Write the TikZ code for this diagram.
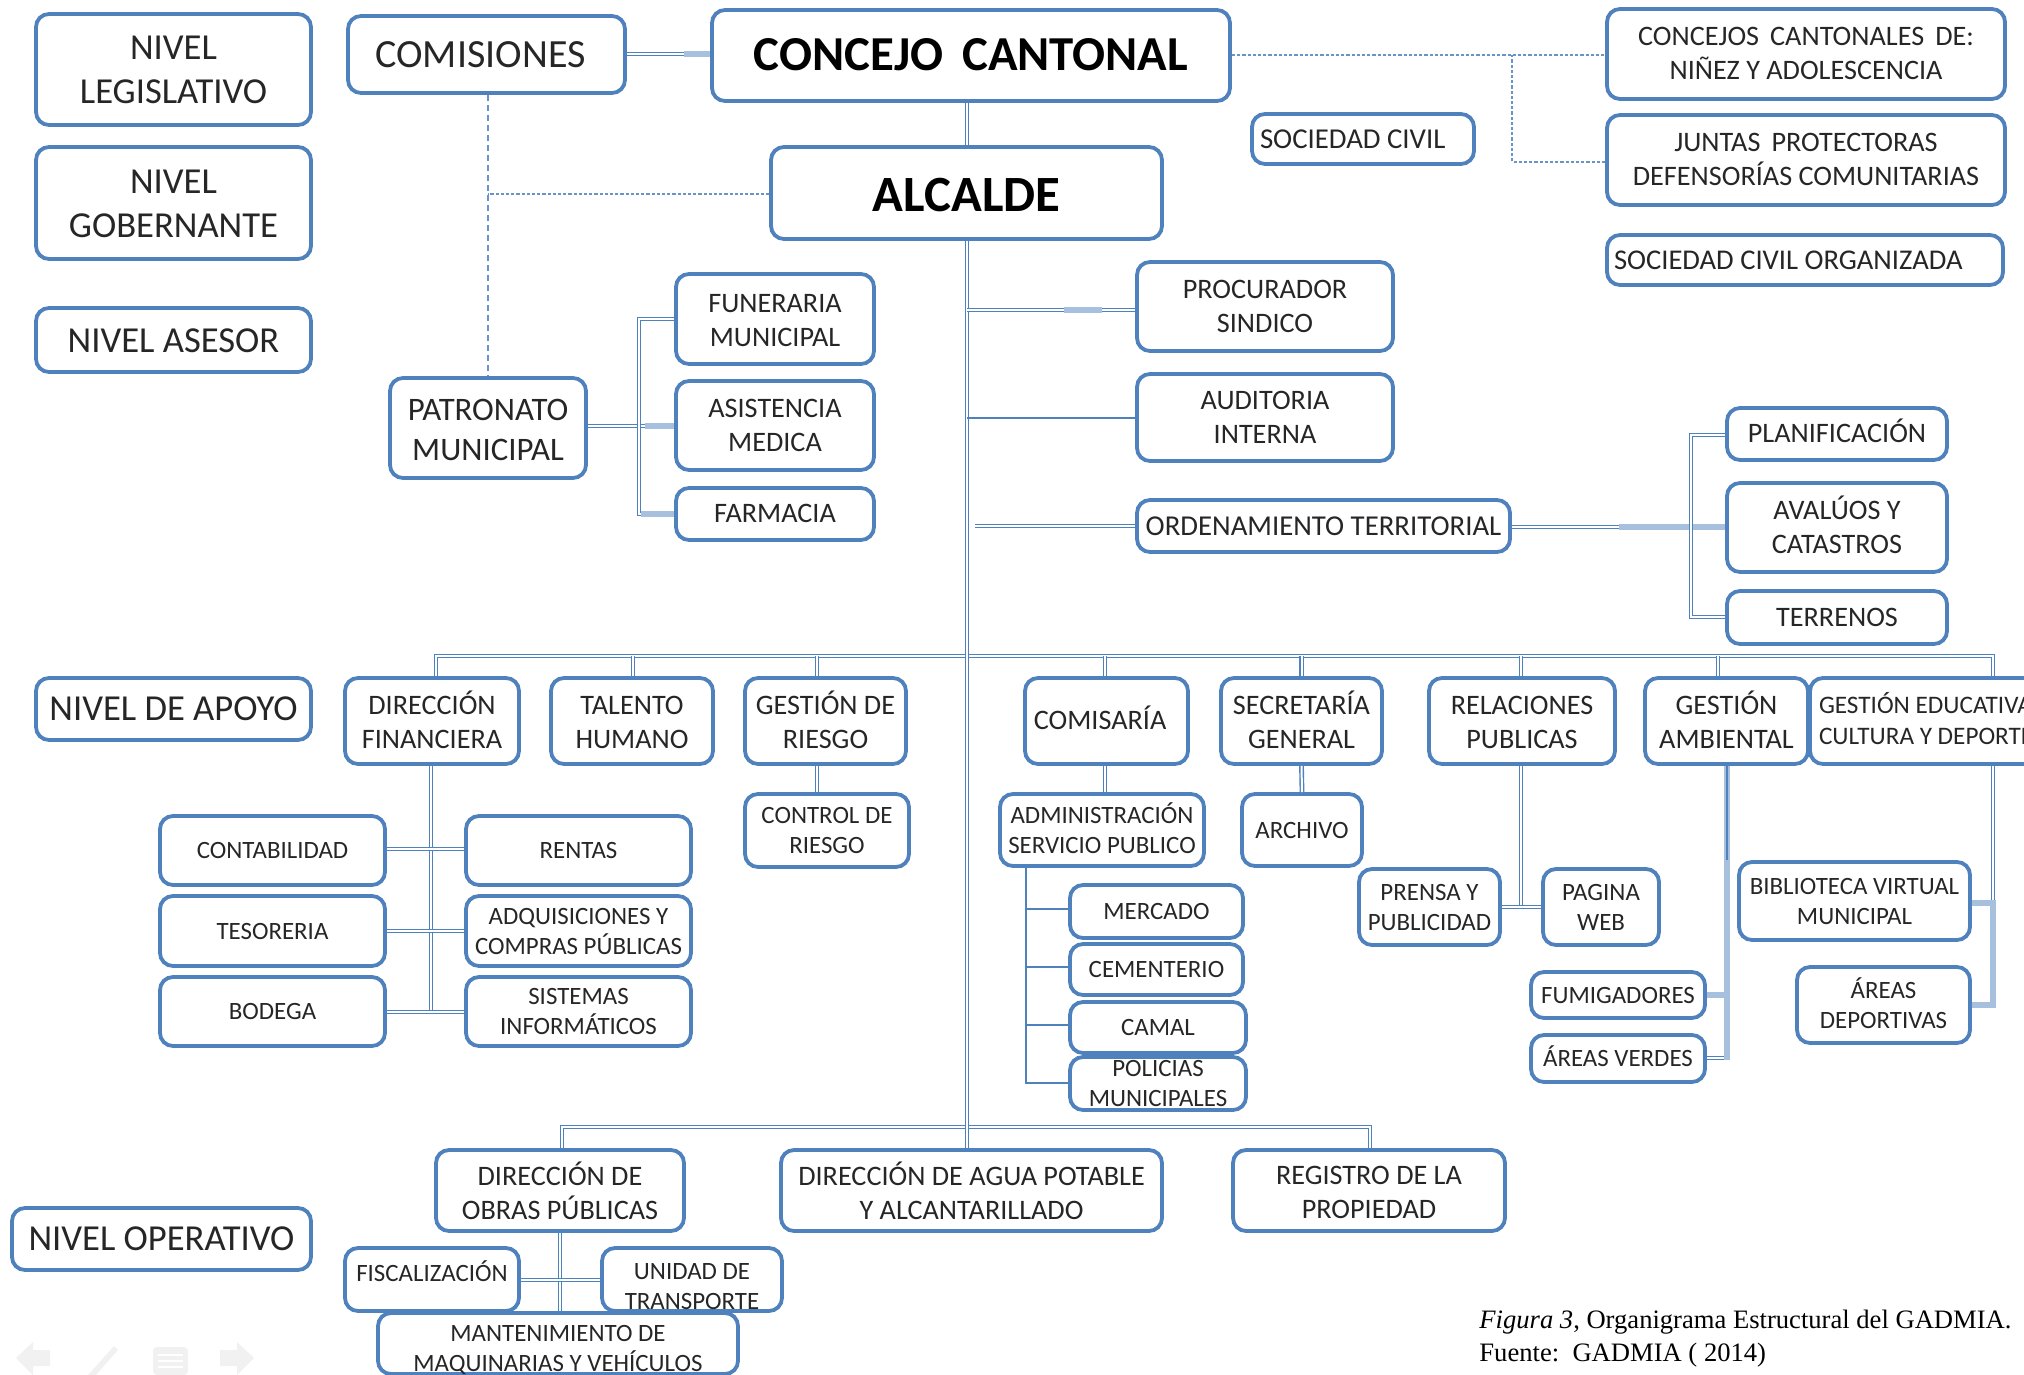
\documentclass[tikz,border=0pt]{standalone}
\usepackage{fontspec}
\setmainfont{Carlito}
\newfontfamily\capfont{Liberation Serif}
\definecolor{boxblue}{HTML}{4F81BD}
\definecolor{paleblue}{HTML}{A7C0DE}
\definecolor{navgray}{HTML}{F1F1F1}
\tikzset{
  orgbox/.style={draw=boxblue,line width=1.9pt,rounded corners=6.5pt,fill=white,inner sep=0pt,text=black!85},
  dbl/.style={draw=boxblue,double=white,double distance=1pt,line width=0.7pt},
  thin line/.style={draw=boxblue,line width=0.9pt},
  pale/.style={draw=paleblue,line width=3pt},
  dotl/.style={draw=boxblue!85,line width=1pt,dash pattern=on 1.6pt off 1pt},
  dashl/.style={draw=boxblue!85,line width=0.65pt,dash pattern=on 3pt off 2pt},
  capnote/.style={anchor=base west,inner sep=0pt,font=\capfont\fontsize{13.3}{15}\selectfont},
}
\def\dyoff{0}
% \bx[style]{name}{x1}{y1}{x2}{y2}{size}{leading}{text}; text is kept at zero height so boxes keep their size
\newcommand\bx[9][]{\pgfmathsetmacro\rsft{-0.572*#7+0.2*#8+\dyoff}%
\node[orgbox,minimum width={(#5-#3)*0.5pt},minimum height={(#6-#4)*0.5pt},font=\fontsize{#7}{#8}\selectfont,#1] (#2) at ({(#3+#5)/2},{(#4+#6)/2}) {\raisebox{\rsft pt}[0pt][0pt]{\begin{tabular}{@{}c@{}}#9\end{tabular}}};\def\dyoff{0}}
\begin{document}
\begin{tikzpicture}[x=0.5pt,y=-0.5pt]
\path[use as bounding box,clip] (0,0) rectangle (2024,1375);
% levels
\bx{nl}{36}{14}{311}{125}{18.3}{22}{NIVEL\\LEGISLATIVO}
\bx{ng}{36}{147}{311}{259}{18.3}{22}{NIVEL\\GOBERNANTE}
\bx{na}{36}{308}{311}{372}{18.3}{22}{NIVEL ASESOR}
\def\dyoff{0.6}\bx{nap}{36}{678}{311}{740}{18.3}{22}{NIVEL DE APOYO}
\def\dyoff{0.6}\bx{nop}{12}{1208}{311}{1270}{18.3}{22}{NIVEL OPERATIVO}
% top
\bx{com}{348}{16}{625}{93}{20}{22}{COMISIONES\kern6pt}
\bx[text=black]{conc}{712}{10}{1230}{101}{24.4}{28}{\textbf{CONCEJO\, CANTONAL}}
\def\dyoff{-1}\bx[text=black]{alc}{771}{147}{1162}{239}{25.4}{28}{\textbf{ALCALDE}}
\bx{soc}{1252}{114}{1474}{164}{14.4}{17}{\makebox[110pt][l]{\hspace{3.5pt}SOCIEDAD CIVIL}}
\bx{cc}{1607}{9}{2005}{99}{14.1}{17}{CONCEJOS\, CANTONALES\, DE:\\NIÑEZ Y ADOLESCENCIA}
\bx{jp}{1607}{115}{2005}{205}{14.1}{17}{JUNTAS\, PROTECTORAS\\DEFENSORÍAS COMUNITARIAS}
\bx{sco}{1607}{235}{2003}{285}{14.3}{17}{\makebox[197pt][l]{\hspace{3pt}SOCIEDAD CIVIL ORGANIZADA}}
% patronato
\def\dyoff{-0.6}\bx{fun}{676}{274}{874}{364}{14.1}{17}{FUNERARIA\\MUNICIPAL}
\bx{asi}{676}{381}{874}{470}{14.1}{17}{ASISTENCIA\\MEDICA}
\bx{far}{676}{488}{874}{540}{14.1}{17}{FARMACIA}
\def\dyoff{-1}\bx{pat}{390}{378}{586}{478}{16.4}{20}{PATRONATO\\MUNICIPAL}
% staff
\bx{pro}{1137}{262}{1393}{351}{14.1}{17}{PROCURADOR\\SINDICO}
\bx{aud}{1137}{374}{1393}{461}{14.1}{17}{AUDITORIA\\INTERNA}
\bx{ord}{1137}{500}{1510}{552}{14.4}{17}{ORDENAMIENTO TERRITORIAL}
\bx{pla}{1727}{408}{1947}{460}{14.1}{17}{PLANIFICACIÓN}
\bx{ava}{1727}{483}{1947}{572}{14.1}{17}{AVALÚOS Y\\CATASTROS}
\bx{ter}{1727}{591}{1947}{644}{14.1}{17}{TERRENOS}
% support row
\def\dyoff{-0.6}\bx{dif}{345}{678}{519}{764}{14.1}{17}{DIRECCIÓN\\FINANCIERA}
\def\dyoff{-0.6}\bx{tal}{551}{678}{713}{764}{14.1}{17}{TALENTO\\HUMANO}
\def\dyoff{-0.6}\bx{ger}{745}{678}{906}{764}{14.1}{17}{GESTIÓN DE\\RIESGO}
\bx{cms}{1025}{678}{1188}{764}{14.1}{17}{COMISARÍA\kern6.4pt}
\def\dyoff{-0.6}\bx{sec}{1221}{678}{1382}{764}{14.1}{17}{SECRETARÍA\\GENERAL}
\def\dyoff{-0.6}\bx{rel}{1429}{678}{1615}{764}{14.1}{17}{RELACIONES\\PUBLICAS}
\def\dyoff{-0.6}\bx{gam}{1645}{678}{1808}{764}{14.1}{17}{GESTIÓN\\AMBIENTAL}
\bx{ged}{1810}{678}{2060}{764}{12.6}{15.5}{\makebox[125pt][l]{\hspace{4.5pt}GESTIÓN EDUCATIVA}\\\makebox[125pt][l]{\hspace{4.5pt}CULTURA Y DEPORTE}}
% finance
\bx{cot}{160}{816}{385}{885}{12.45}{15}{CONTABILIDAD}
\bx{ren}{466}{816}{691}{885}{12.45}{15}{RENTAS}
\bx{tes}{160}{896}{385}{966}{12.45}{15}{TESORERIA}
\bx{adq}{466}{896}{691}{966}{12.45}{15}{ADQUISICIONES Y\\COMPRAS PÚBLICAS}
\bx{bod}{160}{977}{385}{1046}{12.45}{15}{BODEGA}
\bx{sis}{466}{977}{691}{1046}{12.45}{15}{SISTEMAS\\INFORMÁTICOS}
\bx{cor}{745}{794}{909}{867}{12.45}{15}{CONTROL DE\\RIESGO}
% comisaria
\bx{adm}{1000}{794}{1204}{866}{12.45}{15}{ADMINISTRACIÓN\\SERVICIO PUBLICO}
\bx{mer}{1070}{885}{1243}{938}{12.45}{15}{MERCADO}
\bx{cem}{1070}{944}{1243}{995}{12.45}{15}{CEMENTERIO}
\bx{cam}{1070}{1002}{1246}{1053}{12.45}{15}{CAMAL}
\bx{pol}{1070}{1057}{1246}{1110}{12.45}{15}{POLICIAS\\MUNICIPALES}
\bx{arc}{1242}{794}{1362}{866}{12.45}{15}{ARCHIVO}
\bx{pre}{1359}{869}{1500}{945}{12.45}{15}{PRENSA Y\\PUBLICIDAD}
\bx{pag}{1543}{869}{1659}{945}{12.45}{15}{PAGINA\\WEB}
\bx{fum}{1531}{972}{1705}{1018}{12.45}{15}{FUMIGADORES}
\bx{ave}{1531}{1035}{1705}{1082}{12.45}{15}{ÁREAS VERDES}
\bx{bib}{1739}{862}{1970}{940}{12.45}{15}{BIBLIOTECA VIRTUAL\\MUNICIPAL}
\bx{ade}{1797}{967}{1970}{1043}{12.45}{15}{ÁREAS\\DEPORTIVAS}
% operative
\def\dyoff{-1.6}\bx{obr}{436}{1150}{684}{1231}{14.1}{17}{DIRECCIÓN DE\\OBRAS PÚBLICAS}
\def\dyoff{-1.6}\bx{agu}{781}{1150}{1162}{1231}{14.1}{17}{DIRECCIÓN DE AGUA POTABLE\\Y ALCANTARILLADO}
\def\dyoff{-1.2}\bx{reg}{1233}{1150}{1505}{1231}{14.1}{17}{REGISTRO DE LA\\PROPIEDAD}
\def\dyoff{3.2}\bx{fis}{345}{1248}{519}{1311}{12.45}{15}{FISCALIZACIÓN}
\def\dyoff{-3.2}\bx{uni}{602}{1248}{782}{1311}{12.45}{15}{UNIDAD DE\\TRANSPORTE}
\def\dyoff{-2.4}\bx{man}{378}{1313}{738}{1374}{12.45}{15}{MANTENIMIENTO DE\\MAQUINARIAS Y VEHÍCULOS}
% junction coordinates
\coordinate (busL) at (436,656);
\coordinate (busR) at (1993,656);
\coordinate (lowL) at (562,1127);
\coordinate (lowR) at (1370,1127);
\coordinate (dashX) at (488,194);
\coordinate (dashY) at (1512,55);
\coordinate (patX) at (639,426);
\coordinate (ordX) at (1691,527);
% upper bus
\draw[dbl] (dif.north -| busL) -- (busL) -- (busR) -- (ged.north -| busR);
\draw[dbl] (633,656) -- (tal.north -| 633,0);
\draw[dbl] (817,656) -- (ger.north -| 817,0);
\draw[dbl] (1105,656) -- (cms.north -| 1105,0);
\draw[dbl] (sec.north |- busR) -- (sec.north);
\draw[dbl] (1521,656) -- (rel.north -| 1521,0);
\draw[dbl] (1718,656) -- (gam.north -| 1718,0);
% lower bus
\draw[dbl] (obr.north -| lowL) -- (lowL) -- (lowR) -- (reg.north -| lowR);
% solid connectors
\draw[dbl] (com.east |- 0,54) -- (684,54);
\draw[pale] (684,54) -- (conc.west |- 0,54);
\draw[dbl] (conc.south -| 967,0) -- (alc.north -| 967,0);
\draw[dbl] (alc.south -| 967,0) -- (agu.north -| 967,0);
\draw[dbl] (967,310) -- (1064,310);
\draw[pale] (1064,310) -- (1102,310);
\draw[dbl] (1102,310) -- (pro.west |- 0,310);
\draw[thin line] (967,418) -- (aud.west |- 0,418);
\draw[dbl] (975,526) -- (ord.west |- 0,526);
% patronato
\draw[dbl] (pat.east |- patX) -- (645,426);
\draw[pale] (645,426) -- (asi.west |- patX);
\draw[dbl] (fun.west |- 0,319) -| (patX) |- (far.west |- 0,514);
\draw[pale] (641,514) -- (far.west |- 0,514);
% ordenamiento
\draw[dbl] (ord.east |- ordX) -- (1619,527);
\draw[pale] (1619,527) -- (ava.west |- ordX);
\draw[dbl] (pla.west |- 0,435) -| (ordX) |- (ter.west |- 0,617);
% finance
\draw[dbl] (dif.south -| 431,0) -- (431,1012);
\draw[dbl] (cot.east |- 0,849) -- (ren.west |- 0,849);
\draw[dbl] (tes.east |- 0,931) -- (adq.west |- 0,931);
\draw[dbl] (bod.east |- 0,1012) -- (sis.west |- 0,1012);
% child links
\draw[dbl] (ger.south -| 817,0) -- (cor.north -| 817,0);
\draw[dbl] (cms.south -| 1105,0) -- (adm.north -| 1105,0);
\draw[dbl] (sec.south) -- (arc.north);
% admin branches
\draw[thin line] (adm.south -| 1026,0) -- (1026,1083) -- (pol.west |- 0,1083);
\draw[thin line] (1026,909) -- (mer.west |- 0,909);
\draw[thin line] (1026,967) -- (cem.west |- 0,967);
\draw[thin line] (1026,1025) -- (cam.west |- 0,1025);
% relaciones
\draw[dbl] (rel.south -| 1521,0) -- (1521,907);
\draw[dbl] (pre.east |- 0,907) -- (pag.west |- 0,907);
% ambiental
\draw[pale] (fum.east |- 0,995) -- (1727,995);
\draw[dbl] (ave.east |- 0,1058) -- (1727,1058);
\draw[pale] (gam.south -| 1727,0) -- (1727,1060);
\draw[draw=boxblue,line width=0.8pt] (gam.south -| 1727,0) -- (1727,860);
% educativa
\draw[dbl] (ged.south -| 1993,0) -- (1993,903);
\draw[pale] (bib.east |- 0,903) -- (1993,903);
\draw[pale] (1993,900) -- (1993,1005) -- (ade.east |- 0,1005);
% obras
\draw[dbl] (obr.south -| 560,0) -- (man.north -| 560,0);
\draw[dbl] (fis.east |- 0,1280) -- (uni.west |- 0,1280);
% dotted connectors
\draw[dashl] (com.south -| dashX) -- (pat.north -| dashX);
\draw[dotl] (alc.west |- dashX) -- (dashX);
\draw[dotl] (conc.east |- dashY) -- (cc.west |- dashY);
\draw[dotl] (jp.west |- 0,162) -| (dashY);
% caption
\node[capnote] (c1) at (1479,1328) {\textit{Figura 3}, Organigrama Estructural del GADMIA.};
\node[capnote] (c2) at (1479,1361) {Fuente:\ \ GADMIA ( 2014)};
% presentation navigation marks
\fill[navgray] (16,1358) -- (33,1342) -- (33,1350) -- (50,1350) -- (50,1366) -- (33,1366) -- (33,1375) -- cycle;
\fill[navgray] (254,1358) -- (237,1342) -- (237,1350) -- (220,1350) -- (220,1366) -- (237,1366) -- (237,1375) -- cycle;
\fill[navgray] (88,1375) -- (114,1346) -- (118,1350) -- (96,1375) -- cycle;
\fill[navgray,rounded corners=2pt] (153,1347) rectangle (188,1375);
\draw[white,line width=0.7pt] (158,1355) -- (183,1355) (158,1361) -- (183,1361) (158,1367) -- (183,1367);
\end{tikzpicture}
\end{document}
